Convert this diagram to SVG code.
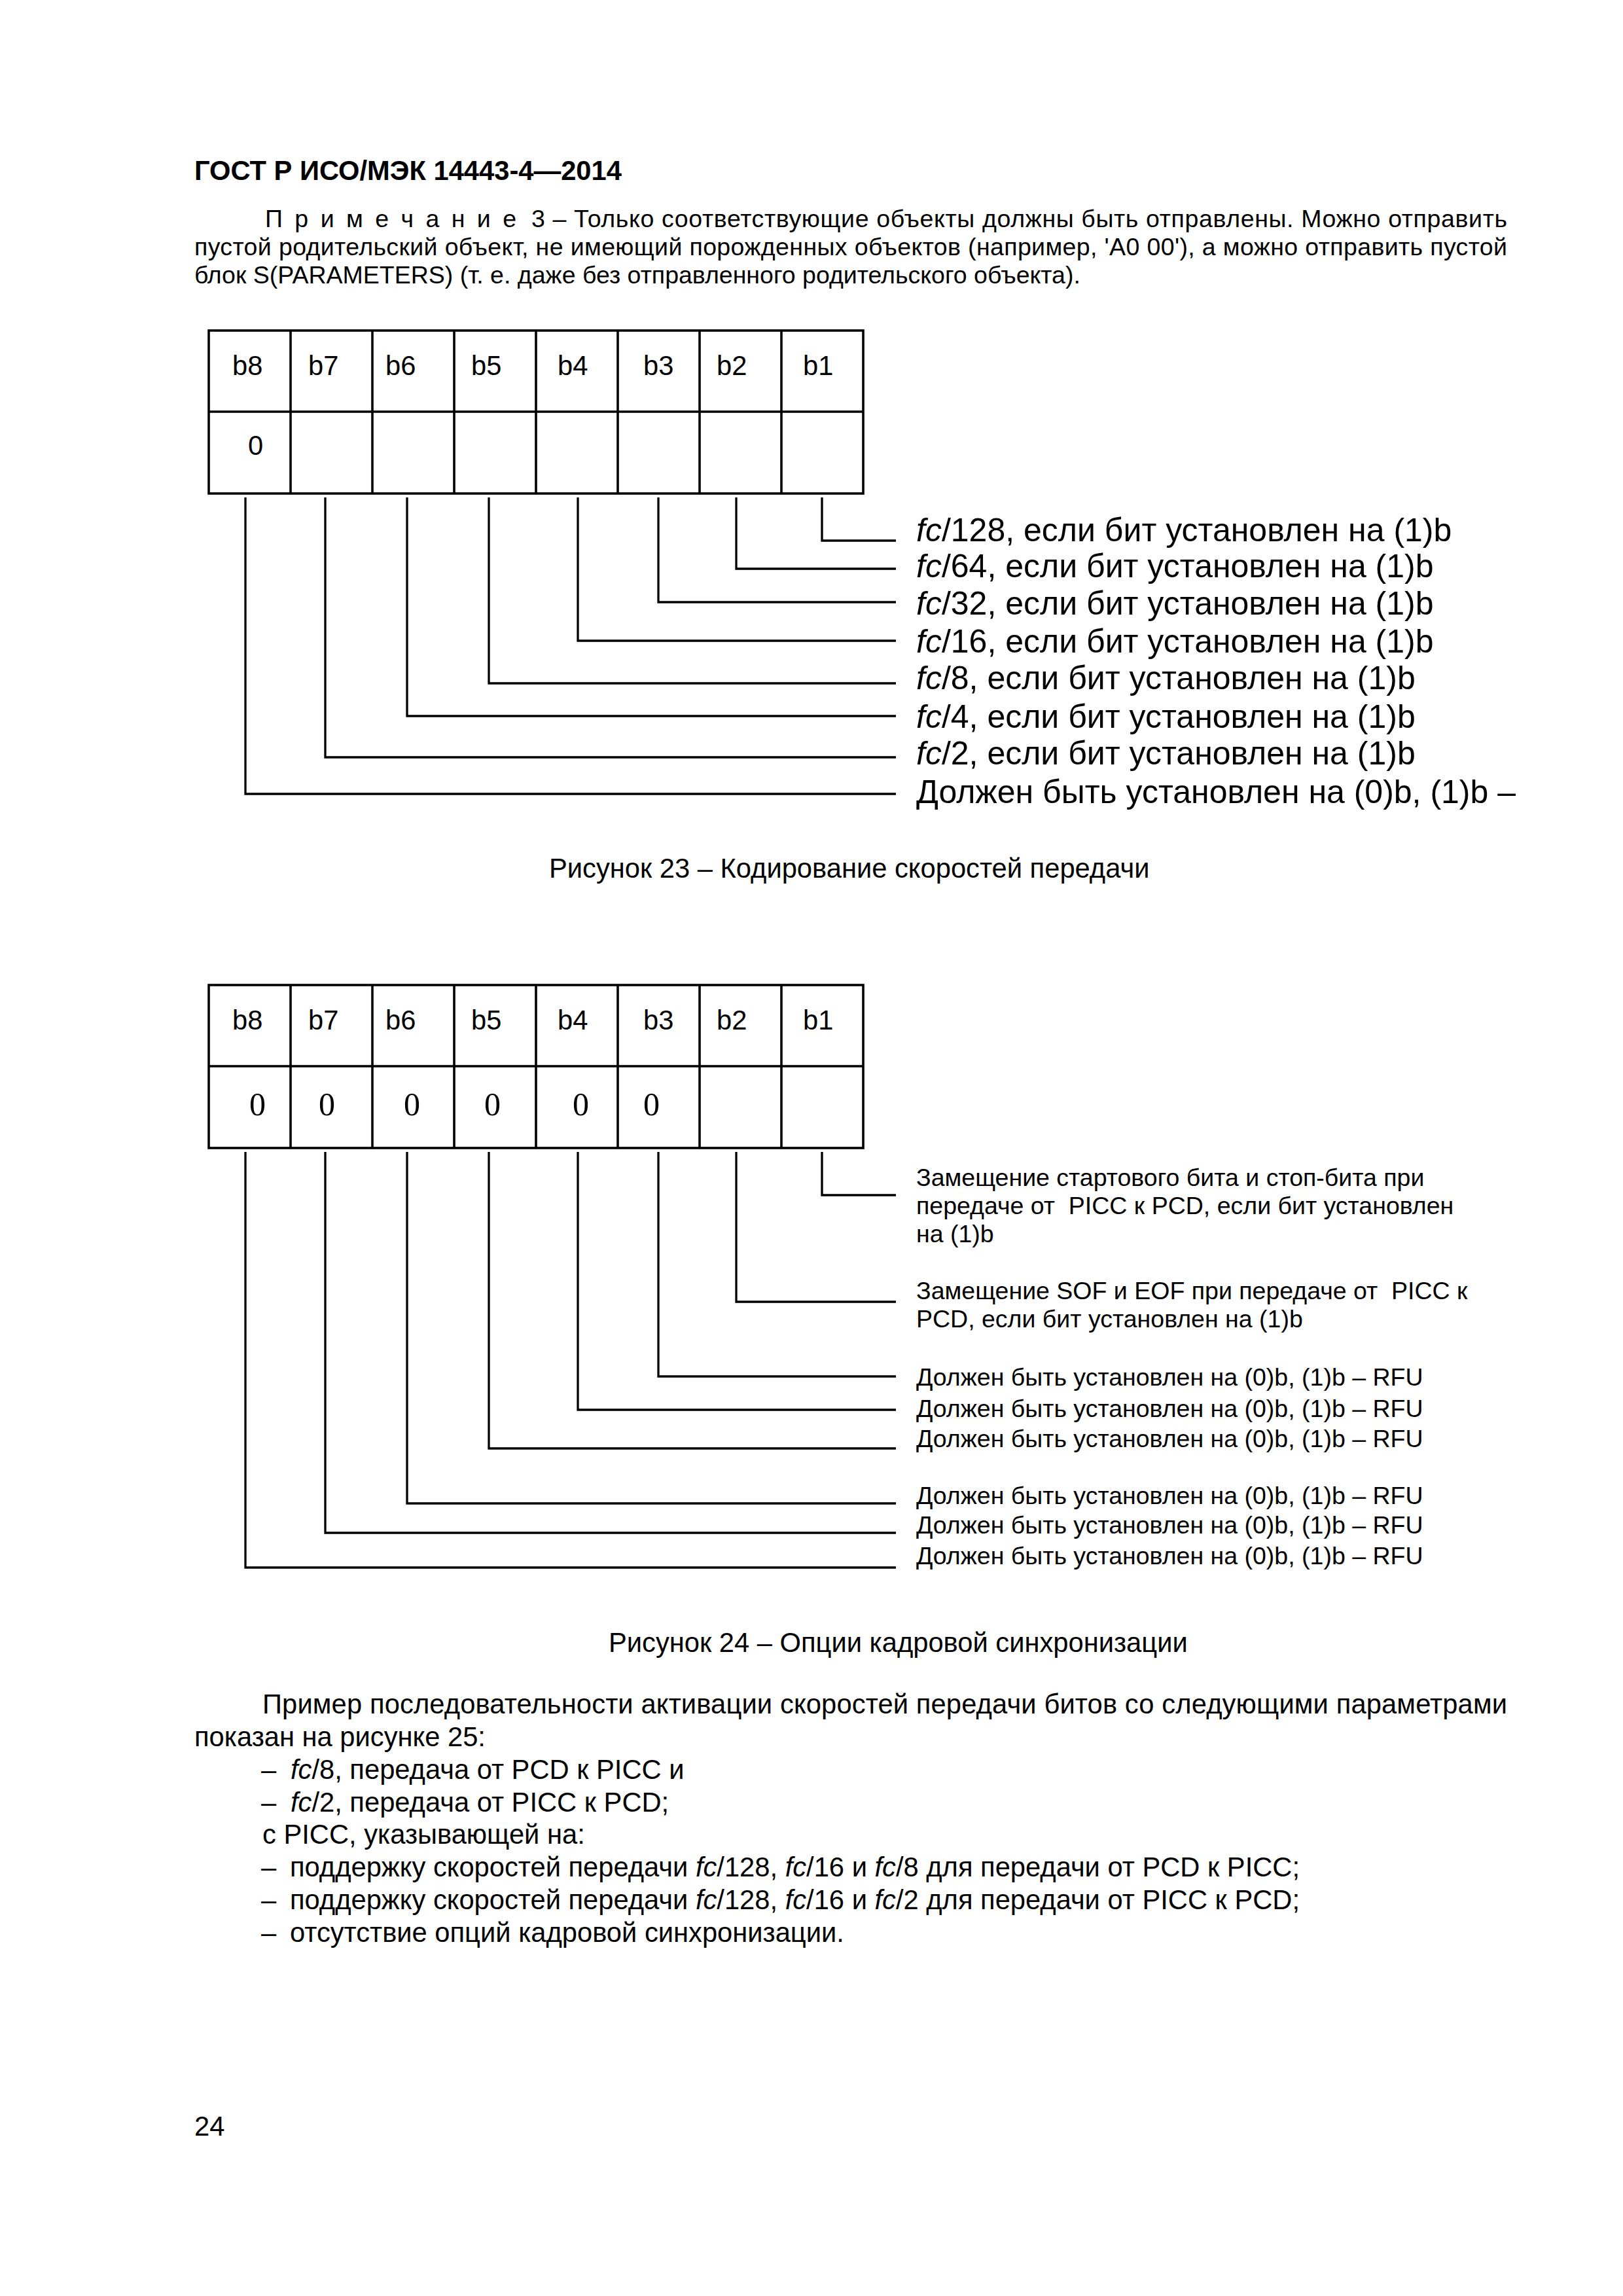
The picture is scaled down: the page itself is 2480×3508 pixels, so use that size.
<svg xmlns="http://www.w3.org/2000/svg" width="2480" height="3508" viewBox="0 0 2480 3508">
<style>
text{font-family:"Liberation Sans",Arial,sans-serif;fill:#000}
.hd{font-size:41.7px;font-weight:bold}
.note{font-size:37.5px}
.body{font-size:41.7px}
.cell{font-size:41.7px}
.lbl23{font-size:50px}
.lbl24{font-size:37.5px}
.serif0{font-family:"Liberation Serif","Times New Roman",serif;font-size:50px}
.i{font-style:italic}
.tbl{fill:none;stroke:#000;stroke-width:3.6}
.con{fill:none;stroke:#000;stroke-width:3.3;stroke-linejoin:miter;stroke-linecap:butt}
</style>
<rect x="0" y="0" width="2480" height="3508" fill="#fff"/>

<g id="header">
<text class="hd" x="297" y="275">ГОСТ Р ИСО/МЭК 14443-4—2014</text>
</g>

<g id="note">
<text class="note" x="405" y="347" textLength="384" lengthAdjust="spacing">П р и м е ч а н и е</text>
<text class="note" x="812" y="347" textLength="1491" lengthAdjust="spacing">3 – Только соответствующие объекты должны быть отправлены. Можно отправить</text>
<text class="note" x="297" y="390" textLength="2006" lengthAdjust="spacing">пустой родительский объект, не имеющий порожденных объектов (например, 'A0 00'), а можно отправить пустой</text>
<text class="note" x="297" y="433">блок S(PARAMETERS) (т. е. даже без отправленного родительского объекта).</text>
</g>

<!-- Figure 23 -->
<g id="fig23-table">
<rect class="tbl" x="319" y="505" width="1000" height="249"/>
<path class="tbl" d="M319 629H1319M444 505V754M569 505V754M694 505V754M819 505V754M944 505V754M1069 505V754M1194 505V754"/>
<text class="cell" x="355" y="573">b8</text>
<text class="cell" x="471" y="573">b7</text>
<text class="cell" x="589" y="573">b6</text>
<text class="cell" x="720" y="573">b5</text>
<text class="cell" x="852" y="573">b4</text>
<text class="cell" x="983" y="573">b3</text>
<text class="cell" x="1095" y="573">b2</text>
<text class="cell" x="1227" y="573">b1</text>
<text class="cell" x="379" y="695">0</text>
</g>

<g id="fig23-connectors">
<path class="con" d="M1256 760V826H1369"/>
<path class="con" d="M1125 760V869H1369"/>
<path class="con" d="M1006 760V920H1369"/>
<path class="con" d="M883 760V979H1369"/>
<path class="con" d="M747 760V1044H1369"/>
<path class="con" d="M622 760V1094H1369"/>
<path class="con" d="M497 760V1157H1369"/>
<path class="con" d="M375 760V1213H1369"/>
</g>

<g id="fig23-labels">
<text class="lbl23" x="1400" y="827"><tspan class="i">fc</tspan>/128, если бит установлен на (1)b</text>
<text class="lbl23" x="1400" y="882"><tspan class="i">fc</tspan>/64, если бит установлен на (1)b</text>
<text class="lbl23" x="1400" y="939"><tspan class="i">fc</tspan>/32, если бит установлен на (1)b</text>
<text class="lbl23" x="1400" y="997"><tspan class="i">fc</tspan>/16, если бит установлен на (1)b</text>
<text class="lbl23" x="1400" y="1053"><tspan class="i">fc</tspan>/8, если бит установлен на (1)b</text>
<text class="lbl23" x="1400" y="1112"><tspan class="i">fc</tspan>/4, если бит установлен на (1)b</text>
<text class="lbl23" x="1400" y="1168"><tspan class="i">fc</tspan>/2, если бит установлен на (1)b</text>
<text class="lbl23" x="1400" y="1227">Должен быть установлен на (0)b, (1)b –</text>
</g>

<g id="fig23-caption">
<text class="body" x="839" y="1341">Рисунок 23 – Кодирование скоростей передачи</text>
</g>

<!-- Figure 24 -->
<g id="fig24-table">
<rect class="tbl" x="319" y="1505" width="1000" height="249"/>
<path class="tbl" d="M319 1629H1319M444 1505V1754M569 1505V1754M694 1505V1754M819 1505V1754M944 1505V1754M1069 1505V1754M1194 1505V1754"/>
<text class="cell" x="355" y="1573">b8</text>
<text class="cell" x="471" y="1573">b7</text>
<text class="cell" x="589" y="1573">b6</text>
<text class="cell" x="720" y="1573">b5</text>
<text class="cell" x="852" y="1573">b4</text>
<text class="cell" x="983" y="1573">b3</text>
<text class="cell" x="1095" y="1573">b2</text>
<text class="cell" x="1227" y="1573">b1</text>
<text class="serif0" x="381" y="1704">0</text>
<text class="serif0" x="487" y="1704">0</text>
<text class="serif0" x="617" y="1704">0</text>
<text class="serif0" x="740" y="1704">0</text>
<text class="serif0" x="875" y="1704">0</text>
<text class="serif0" x="983" y="1704">0</text>
</g>

<g id="fig24-connectors">
<path class="con" d="M1256 1760V1826H1369"/>
<path class="con" d="M1125 1760V1989H1369"/>
<path class="con" d="M1006 1760V2103H1369"/>
<path class="con" d="M883 1760V2154H1369"/>
<path class="con" d="M747 1760V2213H1369"/>
<path class="con" d="M622 1760V2297H1369"/>
<path class="con" d="M497 1760V2342H1369"/>
<path class="con" d="M375 1760V2395H1369"/>
</g>

<g id="fig24-labels">
<text class="lbl24" x="1400" y="1812">Замещение стартового бита и стоп-бита при</text>
<text class="lbl24" x="1400" y="1855" xml:space="preserve">передаче от  PICC к PCD, если бит установлен</text>
<text class="lbl24" x="1400" y="1898">на (1)b</text>
<text class="lbl24" x="1400" y="1985" xml:space="preserve">Замещение SOF и EOF при передаче от  PICC к</text>
<text class="lbl24" x="1400" y="2028">PCD, если бит установлен на (1)b</text>
<text class="lbl24" x="1400" y="2117">Должен быть установлен на (0)b, (1)b – RFU</text>
<text class="lbl24" x="1400" y="2165">Должен быть установлен на (0)b, (1)b – RFU</text>
<text class="lbl24" x="1400" y="2211">Должен быть установлен на (0)b, (1)b – RFU</text>
<text class="lbl24" x="1400" y="2298">Должен быть установлен на (0)b, (1)b – RFU</text>
<text class="lbl24" x="1400" y="2343">Должен быть установлен на (0)b, (1)b – RFU</text>
<text class="lbl24" x="1400" y="2390">Должен быть установлен на (0)b, (1)b – RFU</text>
</g>

<g id="fig24-caption">
<text class="body" x="930" y="2524">Рисунок 24 – Опции кадровой синхронизации</text>
</g>

<g id="paragraph">
<text class="body" x="401" y="2618" textLength="1902" lengthAdjust="spacing">Пример последовательности активации скоростей передачи битов со следующими параметрами</text>
<text class="body" x="297" y="2668">показан на рисунке 25:</text>
<text class="body" y="2718"><tspan x="399">–</tspan><tspan x="444"><tspan class="i">fc</tspan>/8, передача от PCD к PICC и</tspan></text>
<text class="body" y="2768"><tspan x="399">–</tspan><tspan x="444"><tspan class="i">fc</tspan>/2, передача от PICC к PCD;</tspan></text>
<text class="body" x="401" y="2817">с PICC, указывающей на:</text>
<text class="body" y="2867"><tspan x="399">–</tspan><tspan x="443">поддержку скоростей передачи <tspan class="i">fc</tspan>/128, <tspan class="i">fc</tspan>/16 и <tspan class="i">fc</tspan>/8 для передачи от PCD к PICC;</tspan></text>
<text class="body" y="2917"><tspan x="399">–</tspan><tspan x="443">поддержку скоростей передачи <tspan class="i">fc</tspan>/128, <tspan class="i">fc</tspan>/16 и <tspan class="i">fc</tspan>/2 для передачи от PICC к PCD;</tspan></text>
<text class="body" y="2967"><tspan x="399">–</tspan><tspan x="443">отсутствие опций кадровой синхронизации.</tspan></text>
</g>

<g id="page-number">
<text class="body" x="297" y="3263">24</text>
</g>
</svg>
